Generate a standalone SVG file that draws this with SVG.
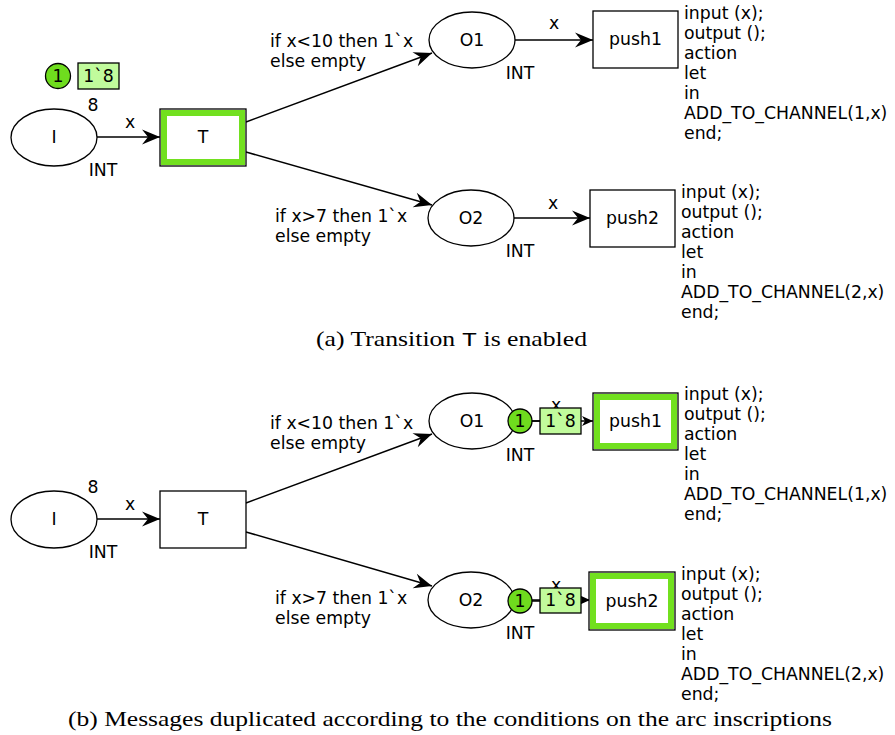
<svg xmlns="http://www.w3.org/2000/svg" width="895" height="735" viewBox="0 0 895 735">
<defs>
<style>
text{font-family:"DejaVu Sans","Verdana",sans-serif;font-size:17.3px;fill:#000}
.c{text-anchor:middle}
.pl{fill:#fff;stroke:#000;stroke-width:1.3}
.tr{fill:#fff;stroke:#000;stroke-width:1.3}
.hl{fill:none;stroke:#72e01f;stroke-width:6}
.arc{fill:none;stroke:#000;stroke-width:1.5}
.tok{fill:#6fdc1e;stroke:#000;stroke-width:1.3}
.tbox{fill:#c1fb9c;stroke:#000;stroke-width:1.3}
.cap{font-family:"Liberation Serif","DejaVu Serif",serif;font-size:21px}
.mono{font-family:"Liberation Mono","DejaVu Sans Mono",monospace}
</style>
<marker id="ah" viewBox="-20 -8 22 16" refX="0" refY="0" markerWidth="22" markerHeight="16" markerUnits="userSpaceOnUse" orient="auto">
<path d="M0,0 L-18,-7.5 L-12,0 L-18,7.5 Z" fill="#000"/>
</marker>
<marker id="ahs" viewBox="-12 -6 14 12" refX="0" refY="0" markerWidth="14" markerHeight="12" markerUnits="userSpaceOnUse" orient="auto">
<path d="M0,0 L-11,-5 L-8,0 L-11,5 Z" fill="#000"/>
</marker>
</defs>
<rect width="895" height="735" fill="#fff"/>

<!-- Panel (a) -->
<g id="connectors-a">
<line class="arc" x1="97" y1="137" x2="160" y2="137" marker-end="url(#ah)"/>
<line class="arc" x1="246" y1="122" x2="432" y2="53" marker-end="url(#ah)"/>
<line class="arc" x1="246" y1="152" x2="432" y2="205" marker-end="url(#ah)"/>
<line class="arc" x1="515" y1="40" x2="593" y2="40" marker-end="url(#ah)"/>
<line class="arc" x1="514" y1="218" x2="590" y2="218" marker-end="url(#ah)"/>
<text class="c" x="130" y="128">x</text>
<text x="270" y="47">if x&lt;10 then 1`x</text>
<text x="270" y="67">else empty</text>
<text x="275" y="222">if x&gt;7 then 1`x</text>
<text x="275" y="242">else empty</text>
<text class="c" x="554" y="29">x</text>
<text class="c" x="553" y="209">x</text>
</g>
<g id="a-I">
<ellipse class="pl" cx="54" cy="137.5" rx="43" ry="28.5"/>
<text class="c" x="54" y="143">I</text>
<text class="c" x="93" y="111">8</text>
<text class="c" x="103" y="176">INT</text>
<circle class="tok" cx="58" cy="76" r="12.5"/>
<text class="c" x="58" y="82">1</text>
<rect class="tbox" x="78" y="63" width="41" height="26"/>
<text class="c" x="98.5" y="82">1`8</text>
</g>
<g id="a-T">
<rect class="tr" x="160" y="109" width="86" height="57"/>
<rect class="hl" x="164" y="113" width="78" height="49"/>
<text class="c" x="203" y="143">T</text>
</g>
<g id="a-O1">
<ellipse class="pl" cx="472" cy="40" rx="43" ry="28"/>
<text class="c" x="472" y="46">O1</text>
<text class="c" x="520" y="79">INT</text>
</g>
<g id="a-O2">
<ellipse class="pl" cx="471" cy="218" rx="43" ry="28"/>
<text class="c" x="471" y="224">O2</text>
<text class="c" x="520" y="257">INT</text>
</g>
<g id="a-push1">
<rect class="tr" x="593" y="11" width="85" height="57"/>
<text class="c" x="635.5" y="45">push1</text>
<text x="684" y="19">input (x);</text>
<text x="684" y="39">output ();</text>
<text x="684" y="59">action</text>
<text x="684" y="79">let</text>
<text x="684" y="99">in</text>
<text x="684" y="119">ADD_TO_CHANNEL(1,x)</text>
<text x="684" y="139">end;</text>
</g>
<g id="a-push2">
<rect class="tr" x="590" y="190" width="85" height="57"/>
<text class="c" x="632.5" y="224">push2</text>
<text x="681" y="198">input (x);</text>
<text x="681" y="218">output ();</text>
<text x="681" y="238">action</text>
<text x="681" y="258">let</text>
<text x="681" y="278">in</text>
<text x="681" y="298">ADD_TO_CHANNEL(2,x)</text>
<text x="681" y="318">end;</text>
</g>
<text class="cap" x="316" y="346" textLength="271" lengthAdjust="spacingAndGlyphs">(a) Transition <tspan class="mono">T</tspan> is enabled</text>

<!-- Panel (b) -->
<g id="connectors-b">
<line class="arc" x1="97" y1="519" x2="160" y2="519" marker-end="url(#ah)"/>
<line class="arc" x1="246" y1="503" x2="432" y2="434" marker-end="url(#ah)"/>
<line class="arc" x1="246" y1="532" x2="432" y2="586" marker-end="url(#ah)"/>
<line class="arc" x1="515" y1="421" x2="593" y2="421" marker-end="url(#ahs)"/>
<line class="arc" x1="514" y1="600" x2="590" y2="600" marker-end="url(#ahs)"/>
<text class="c" x="130" y="510">x</text>
<text x="270" y="429">if x&lt;10 then 1`x</text>
<text x="270" y="449">else empty</text>
<text x="275" y="604">if x&gt;7 then 1`x</text>
<text x="275" y="624">else empty</text>
<text class="c" x="556" y="411">x</text>
<text class="c" x="556" y="591">x</text>
</g>
<g id="b-I">
<ellipse class="pl" cx="54" cy="519.5" rx="43" ry="28.5"/>
<text class="c" x="54" y="525">I</text>
<text class="c" x="93" y="493">8</text>
<text class="c" x="103" y="558">INT</text>
</g>
<g id="b-T">
<rect class="tr" x="160" y="491" width="86" height="57"/>
<text class="c" x="203" y="525">T</text>
</g>
<g id="b-O1">
<ellipse class="pl" cx="472" cy="421" rx="43" ry="28"/>
<text class="c" x="472" y="427">O1</text>
<text class="c" x="520" y="461">INT</text>
</g>
<g id="b-O2">
<ellipse class="pl" cx="471" cy="600" rx="43" ry="28"/>
<text class="c" x="471" y="606">O2</text>
<text class="c" x="520" y="639">INT</text>
</g>
<g id="b-tokens-O1">
<line class="arc" x1="532" y1="421" x2="540" y2="421"/>
<circle class="tok" cx="520" cy="421" r="12"/>
<text class="c" x="520" y="427">1</text>
<rect class="tbox" x="540" y="408" width="41" height="26"/>
<text class="c" x="560.5" y="427">1`8</text>
</g>
<g id="b-tokens-O2">
<line class="arc" x1="532" y1="601" x2="540" y2="601"/>
<circle class="tok" cx="520" cy="601" r="12"/>
<text class="c" x="520" y="607">1</text>
<rect class="tbox" x="540" y="588" width="41" height="25"/>
<text class="c" x="560.5" y="606">1`8</text>
</g>
<g id="b-push1">
<rect class="tr" x="593" y="393" width="85" height="57"/>
<rect class="hl" x="597" y="397" width="77" height="49"/>
<text class="c" x="635.5" y="427">push1</text>
<text x="684" y="400">input (x);</text>
<text x="684" y="420">output ();</text>
<text x="684" y="440">action</text>
<text x="684" y="460">let</text>
<text x="684" y="480">in</text>
<text x="684" y="500">ADD_TO_CHANNEL(1,x)</text>
<text x="684" y="520">end;</text>
</g>
<g id="b-push2">
<rect class="tr" x="589" y="572" width="86" height="58"/>
<rect class="hl" x="593" y="576" width="78" height="50"/>
<text class="c" x="632" y="607">push2</text>
<text x="681" y="580">input (x);</text>
<text x="681" y="600">output ();</text>
<text x="681" y="620">action</text>
<text x="681" y="640">let</text>
<text x="681" y="660">in</text>
<text x="681" y="680">ADD_TO_CHANNEL(2,x)</text>
<text x="681" y="700">end;</text>
</g>
<text class="cap" x="68" y="726" textLength="764" lengthAdjust="spacingAndGlyphs">(b) Messages duplicated according to the conditions on the arc inscriptions</text>
</svg>
